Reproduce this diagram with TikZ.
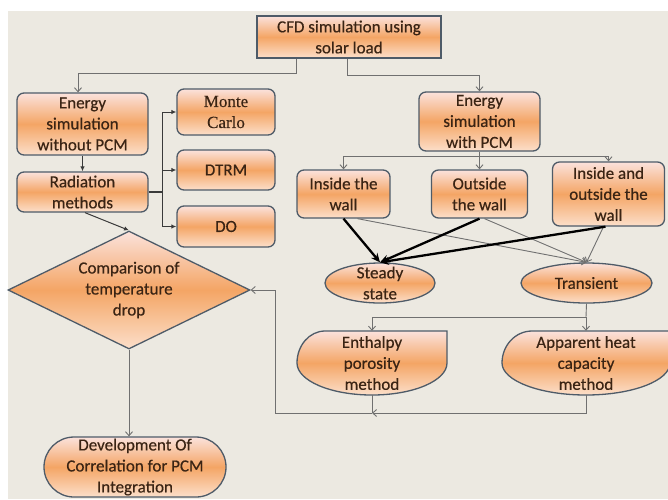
\documentclass[tikz,border=0pt]{standalone}
\usepackage{fontspec}
\setmainfont{Carlito}[FakeBold=0.45]
\newfontfamily\timesfam{Liberation Serif}[FakeBold=0.35]
\usetikzlibrary{shapes.geometric,shapes.misc,arrows.meta,calc}

\definecolor{bg}{HTML}{ECE9E1}
\definecolor{edge}{HTML}{4E5B68}
\definecolor{ink}{HTML}{3A2414}
\definecolor{ftop}{HTML}{FBE2DC}
\definecolor{fmid}{HTML}{F4A565}
\definecolor{fbot}{HTML}{FCDFCA}
\definecolor{wirec}{HTML}{707070}
\definecolor{darkwire}{HTML}{3A3A3A}

\begin{document}
\begin{tikzpicture}[x=1pt,y=-1pt,
  every node/.style={font=\fontsize{17}{21}\selectfont, text=ink, align=center, inner sep=0pt},
  grad/.style={top color=ftop, bottom color=fbot, middle color=fmid},
  outline/.style={draw=edge, line width=1.3pt},
  sqbox/.style={outline, grad, rectangle},
  rbox/.style={outline, grad, rectangle, rounded corners=7pt},
  oval/.style={outline, grad, ellipse},
  stadium/.style={outline, grad, rounded rectangle},
  decision/.style={outline, grad, diamond, aspect=2},
  wire/.style={draw=wirec, line width=0.9pt},
  garrow/.style={wire, -{Straight Barb[length=4pt,width=7pt]}},
  farrow/.style={draw=darkwire, line width=1pt, -{Latex[length=5pt,width=4.5pt]}},
  heavy/.style={draw=black, line width=2.3pt, -{Stealth[length=9pt,width=8pt]}},
]
\useasboundingbox (0,0) rectangle (668,499);
\clip (0,0) rectangle (668,499);

% page background
\fill[white] (0,0) rectangle (668,499);
\fill[bg] (8,11) rectangle (668,499);

% method shapes: ellipse with a square upper-right corner
\path[outline, grad] (447,331) -- (447,363)
  arc[start angle=0, end angle=-90, x radius=75pt, y radius=32pt]
  arc[start angle=-90, end angle=-180, x radius=75pt, y radius=32pt]
  arc[start angle=180, end angle=90, x radius=28pt, y radius=32pt] -- cycle;
\path[outline, grad] (670,331) -- (670,363)
  arc[start angle=0, end angle=-90, x radius=84pt, y radius=32pt]
  arc[start angle=-90, end angle=-180, x radius=84pt, y radius=32pt]
  arc[start angle=180, end angle=90, x radius=30pt, y radius=32pt] -- cycle;

% nodes
\node[sqbox, minimum width=184pt, minimum height=42pt] (cfd) at (349,37) {CFD simulation using\\solar load};

\node[rbox, minimum width=131pt, minimum height=62pt] (ewo) at (82.5,124) {Energy\\simulation\\without PCM};
\node[rbox, minimum width=131pt, minimum height=40pt] (rad) at (82.5,192) {Radiation\\methods};
\node[rbox, minimum width=98pt, minimum height=46pt] (mc) at (226,112) {\timesfam Monte\\\timesfam Carlo};
\node[rbox, minimum width=98pt, minimum height=40pt] (dtrm) at (226,170) {DTRM};
\node[rbox, minimum width=98pt, minimum height=41pt] (do) at (226,226.5) {DO};

\node[decision, minimum width=242pt, minimum height=118pt] (cmp) at (129,290) {Comparison of\\temperature\\drop};
\node[stadium, minimum width=182pt, minimum height=60pt] (dev) at (135,467) {};
\node (devT) at (dev) {Development Of\\Correlation for PCM\\Integration};

\node[rbox, minimum width=121pt, minimum height=59pt] (ewp) at (479.5,121.5) {Energy\\simulation\\with PCM};
\node[rbox, minimum width=93pt, minimum height=48pt] (inw) at (343.5,194) {Inside the\\wall};
\node[rbox, minimum width=96pt, minimum height=48pt] (outw) at (479.5,194) {Outside\\the wall};
\node[rbox, minimum width=112pt, minimum height=64pt] (iow) at (608.5,194) {Inside and\\outside the\\wall};

\node[oval, minimum width=110pt, minimum height=40pt] (steady) at (380,283) {};
\node (steadyT) at (steady) {Steady\\state};
\node[oval, minimum width=131pt, minimum height=40pt] (transient) at (586.5,283) {Transient};

\node[minimum width=150pt, minimum height=64pt] (enth) at (372,363) {Enthalpy\\porosity\\method};
\node[minimum width=168pt, minimum height=64pt] (app) at (586,363) {Apparent heat\\capacity\\method};

% junction points
\coordinate (rj) at (162,192);
\coordinate (pj) at (479.5,156);
\coordinate (tj) at (586,317);
\coordinate (bj) at (372,413);
\coordinate (bk) at (275,413);

% connectors, left branch
\draw[garrow] ([xshift=-53pt]cfd.south) -- ++(0,15) -| ([xshift=-4.5pt]ewo.north);
\draw[farrow] (ewo) -- (rad);
\draw[draw=darkwire, line width=1.6pt] (rad.east) -- (rj);
\draw[farrow] (rj) |- (mc.west);
\draw[farrow] (rj) |- (dtrm.west);
\draw[farrow] (rj) |- (do.west);
\draw[farrow] ([xshift=2.5pt]rad.south) -- (cmp.north);
\draw[garrow] (cmp.south) -- (cmp.south |- dev.north);

% connectors, right branch
\draw[garrow] ([xshift=-2pt]cfd.south) -- ++(0,17) -| (ewp.north);
\draw[wire] (ewp.south) -- (pj);
\draw[garrow] (pj) -| (inw.north);
\draw[garrow] (pj) -- (outw.north);
\draw[garrow] (pj) -| (iow.north);

\draw[garrow] ([xshift=14pt]inw.south) -- (transient.north);
\draw[garrow] ([xshift=5pt]outw.south) -- (transient.north);
\draw[garrow] ([xshift=-5pt]iow.south) -- (transient.north);
\draw[heavy] (inw.south) -- (steady.north);
\draw[heavy] (outw.south) -- (steady.north);
\draw[heavy] ([xshift=-3pt]iow.south) -- (steady.north);

\draw[wire] (transient.south) -- (tj);
\draw[garrow] (tj) -| (enth.north);
\draw[garrow] (tj) -- (app.north);

\draw[wire] (enth.south) -- (bj);
\draw[garrow] (app.south) |- (bj);
\draw[garrow] (bj) -- (bk) |- (cmp.east);
\end{tikzpicture}
\end{document}
